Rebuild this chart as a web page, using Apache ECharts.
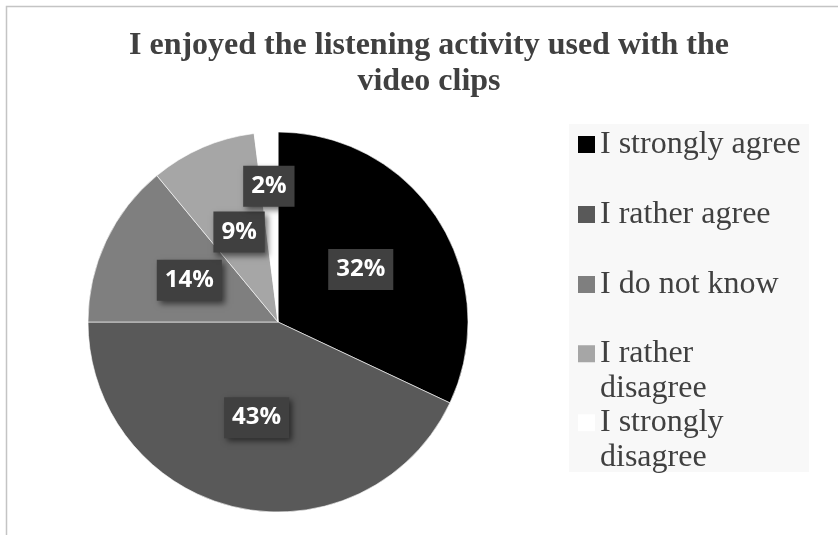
<!DOCTYPE html>
<html>
<head>
<meta charset="utf-8">
<title>I enjoyed the listening activity used with the video clips</title>
<script src="https://cdn.jsdelivr.net/npm/echarts@6/dist/echarts.min.js"></script>
<style>
  html, body { margin: 0; padding: 0; background: #ffffff; }
  #chart { width: 838px; height: 535px; }
</style>
</head>
<body>
<div id="chart"></div>
<script>
// Survey answers and their shares (percent)
const categories = [
  'I strongly agree',
  'I rather agree',
  'I do not know',
  'I rather disagree',
  'I strongly disagree'
];
const shares = [32, 43, 14, 9, 2];
const sliceColors = ['#000000', '#595959', '#7f7f7f', '#a6a6a6', '#ffffff'];
const titleText = 'I enjoyed the listening activity used with the\nvideo clips';

const serif = '"Liberation Serif", "Times New Roman", serif';

const pieData = categories.map((name, i) => {
  const item = {
    name: name,
    value: shares[i],
    itemStyle: { color: sliceColors[i] }
  };
  // the smallest slice's tag is lifted clear of its neighbour
  if (i === categories.length - 1) {
    item.label = { offset: [-3, -38] };
  }
  return item;
});

// Two-line legend entries: a blank leading line keeps the swatch level with the first line
const wrapLegend = name => '\n' + name.replace(/ disagree$/, '\ndisagree');

const legendText = {
  fontFamily: serif,
  fontSize: 32,
  color: '#404040'
};

const legendCommon = {
  orient: 'vertical',
  left: 578,
  padding: 0,
  icon: 'rect',
  itemWidth: 17,
  itemHeight: 17,
  selectedMode: false,
  itemStyle: { borderWidth: 0 }
};

const chart = echarts.init(document.getElementById('chart'), null, { renderer: 'canvas' });

chart.setOption({
  animation: false,
  backgroundColor: '#ffffff',
  title: {
    text: titleText,
    left: 429,
    top: 28,
    padding: 0,
    textAlign: 'center',
    textStyle: {
      fontFamily: serif,
      fontWeight: 'bold',
      fontSize: 32,
      lineHeight: 36,
      color: '#404040'
    }
  },
  graphic: [
    {
      type: 'rect',
      z: -10,
      silent: true,
      shape: { x: 6.5, y: 6.5, width: 900, height: 600 },
      style: { fill: 'none', stroke: '#c4c4c4', lineWidth: 1.5 }
    },
    {
      type: 'rect',
      z: -10,
      silent: true,
      shape: { x: 569, y: 124, width: 240, height: 348 },
      style: { fill: '#f8f8f8' }
    }
  ],
  legend: [
    Object.assign({}, legendCommon, {
      top: 127,
      itemGap: 35,
      data: categories.slice(0, 3),
      textStyle: Object.assign({}, legendText, { lineHeight: 35 })
    }),
    Object.assign({}, legendCommon, {
      top: 302,
      data: [categories[3]],
      formatter: wrapLegend,
      textStyle: Object.assign({}, legendText, { lineHeight: 34.5 })
    }),
    Object.assign({}, legendCommon, {
      top: 371,
      data: [categories[4]],
      formatter: wrapLegend,
      textStyle: Object.assign({}, legendText, { lineHeight: 34.5 })
    })
  ],
  series: [
    {
      type: 'pie',
      center: [278, 322],
      radius: 190,
      startAngle: 90,
      clockwise: true,
      silent: true,
      itemStyle: {
        borderColor: 'rgba(255,255,255,0.6)',
        borderWidth: 1
      },
      label: {
        show: true,
        position: 'inside',
        formatter: '{c}%',
        color: '#ffffff',
        fontFamily: '"Open Sans", Lato, sans-serif',
        fontWeight: 'bold',
        fontSize: 24,
        lineHeight: 25,
        backgroundColor: '#404040',
        padding: [8, 8, 8, 8],
        shadowColor: 'rgba(0,0,0,0.55)',
        shadowBlur: 6,
        shadowOffsetX: 3,
        shadowOffsetY: 3
      },
      labelLine: { show: false },
      data: pieData
    }
  ]
});
</script>
</body>
</html>
